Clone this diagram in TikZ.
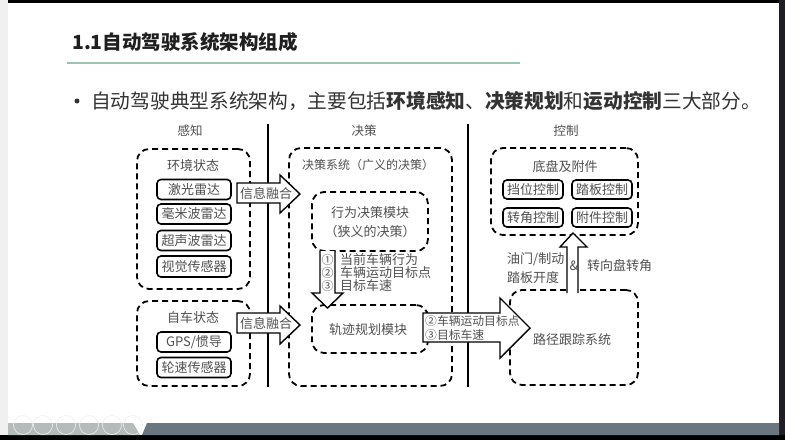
\documentclass[tikz,border=0pt]{standalone}
\usepackage{fontspec}
\setmainfont{Noto Sans CJK SC}
\definecolor{txt}{HTML}{333333}
\definecolor{dg}{HTML}{505050}
\definecolor{rulec}{HTML}{9CC3B0}
\definecolor{sidebar}{HTML}{F0F0F0}
\definecolor{darkR}{HTML}{1E1E24}
\definecolor{barL}{HTML}{B5BBBA}
\definecolor{barD}{HTML}{6A7780}
\begin{document}
\begin{tikzpicture}[x=1pt,y=-1pt,
  dbox/.style={draw=black, line width=1.8pt, dash pattern=on 6pt off 4pt, rounded corners=12pt, inner sep=0pt},
  sbox/.style={draw=black, line width=1.6pt, rounded corners=4pt, fill=white, text=dg, font=\fontsize{13}{13}\selectfont, inner sep=0pt},
  lbl/.style={text=dg, font=\fontsize{13}{13}\selectfont, inner sep=0pt},
  hdr/.style={text=dg, font=\fontsize{12.5}{12.5}\selectfont, inner sep=0pt},
  barrow/.style={draw=black, line width=1.4pt, fill=white, line join=miter},
  vline/.style={draw=black, line width=1.5pt},
]
\useasboundingbox (0,0) rectangle (785,440);
% slide frame
\fill[white] (0,0) rectangle (785,440);
\fill[sidebar] (0,0) rectangle (8,440);
\fill[black] (8,0) rectangle (779,3);
\fill[darkR] (779,0) rectangle (785,440);
\fill[black] (0,435) rectangle (785,440);
\fill[barL] (8,423) -- (133,423) -- (140,435) -- (8,435) -- cycle;
\fill[barD] (142,435) -- (147,423) -- (779,423) -- (779,435) -- cycle;
\foreach \x in {23,43,66,89,112,133} \draw[gray!12, line width=0.6pt] (\x,425) circle (9.5);

% title
\node[anchor=west, inner sep=0pt, font=\fontsize{19.5}{19.5}\selectfont\bfseries, text=black!88] (title) at (72,42) {1.1自动驾驶系统架构组成};
\draw[rulec, line width=1.5pt] (67,63) -- (520,63);
\node[circle, fill=txt, inner sep=0pt, minimum size=5pt] (bul) at (77,101) {};
\node[anchor=west, inner sep=0pt, font=\fontsize{19.7}{19.7}\selectfont, text=txt] (bullet) at (91,101)
  {自动驾驶典型系统架构，主要包括\textbf{环境感知}、\textbf{决策规划}和\textbf{运动控制}三大部分。};

% headers and separators
\node[hdr] (h1) at (190,131) {感知};
\node[hdr] (h2) at (364,131) {决策};
\node[hdr] (h3) at (566,131) {控制};
\coordinate (l1t) at (268,124); \coordinate (l1b) at (268,387);
\coordinate (l2t) at (468,124); \coordinate (l2b) at (468,387);
\draw[vline] (l1t) -- (l1b);
\draw[vline] (l2t) -- (l2b);

% perception
\node[dbox, minimum width=113pt, minimum height=140pt] (env) at (193.5,219) {};
\node[lbl] (envl) at (193,166) {环境状态};
\node[sbox, minimum width=74pt, minimum height=20pt] (s1) at (194,189.5) {激光雷达};
\node[sbox, minimum width=74pt, minimum height=20pt] (s2) at (194,214) {毫米波雷达};
\node[sbox, minimum width=74pt, minimum height=20pt] (s3) at (194,240.5) {超声波雷达};
\node[sbox, minimum width=74pt, minimum height=21pt] (s4) at (194,266.5) {视觉传感器};

\node[dbox, minimum width=113pt, minimum height=85pt] (ego) at (193.5,343.5) {};
\node[lbl] (egol) at (193,318) {自车状态};
\node[sbox, minimum width=74pt, minimum height=20pt] (g1) at (194,342) {GPS/惯导};
\node[sbox, minimum width=74pt, minimum height=20pt] (g2) at (194,367.5) {轮速传感器};

% decision
\node[dbox, minimum width=163pt, minimum height=238pt] (dec) at (370.5,267) {};
\node[hdr, font=\fontsize{12}{12}\selectfont] (decl) at (368,165) {决策系统（广义的决策）};
\node[dbox, minimum width=116pt, minimum height=59pt] (beh) at (370,221.5) {};
\node[lbl] (behl1) at (370,213) {行为决策模块};
\node[lbl] (behl2) at (370,232) {（狭义的决策）};
\node[dbox, minimum width=116pt, minimum height=48pt] (traj) at (370,329) {};
\node[lbl] (trajl) at (368,330) {轨迹规划模块};

% control
\node[dbox, minimum width=147pt, minimum height=87pt] (chas) at (564.5,191.5) {};
\node[lbl] (chasl) at (565,167) {底盘及附件};
\node[sbox, minimum width=60pt, minimum height=19pt] (c1) at (533,189.5) {挡位控制};
\node[sbox, minimum width=60pt, minimum height=19pt] (c2) at (602,189.5) {踏板控制};
\node[sbox, minimum width=60pt, minimum height=19pt] (c3) at (533,217.5) {转角控制};
\node[sbox, minimum width=60pt, minimum height=19pt] (c4) at (602,217.5) {附件控制};
\node[dbox, minimum width=128pt, minimum height=95pt] (track) at (574,337.5) {};
\node[lbl] (trackl) at (572,340) {路径跟踪系统};

% block arrows
\draw[barrow] (237,183) -- (280,183) -- (280,175) -- (300,194) -- (280,213) -- (280,203) -- (237,203) -- cycle;
\node[lbl, anchor=west] (f1) at (240,193.5) {信息融合};
\draw[barrow] (237,313) -- (280,313) -- (280,306) -- (300,325) -- (280,344) -- (280,333) -- (237,333) -- cycle;
\node[lbl, anchor=west] (f2) at (240,323.5) {信息融合};

\draw[barrow] (320,251) -- (320,293) -- (312,293) -- (327.5,308) -- (343,293) -- (335,293) -- (335,251);
\node[lbl, font=\fontsize{12}{12}\selectfont] (n1) at (327.5,260) {①};
\node[lbl, font=\fontsize{12}{12}\selectfont] (n2) at (327.5,273) {②};
\node[lbl, font=\fontsize{12}{12}\selectfont] (n3) at (327.5,286) {③};
\node[lbl, anchor=west] (t1) at (340,260) {当前车辆行为};
\node[lbl, anchor=west] (t2) at (340,273) {车辆运动目标点};
\node[lbl, anchor=west] (t3) at (340,286) {目标车速};

\draw[barrow] (423,313) -- (500,313) -- (500,298) -- (530,328) -- (500,358) -- (500,342) -- (423,342) -- cycle;
\node[lbl, anchor=west, font=\fontsize{11.8}{11.8}\selectfont] (b1) at (425,321.5) {②车辆运动目标点};
\node[lbl, anchor=west, font=\fontsize{11.8}{11.8}\selectfont] (b2) at (425,335) {③目标车速};

\draw[barrow] (567,293) -- (567,247) -- (560,247) -- (573,233) -- (587,247) -- (578,247) -- (578,293);
\node[lbl, anchor=west] (u1) at (507,259) {油门/制动};
\node[lbl, anchor=west] (u2) at (507,278) {踏板开度};
\node[lbl] (amp) at (574,266) {\&};
\node[lbl, anchor=west] (u3) at (587,266) {转向盘转角};
\end{tikzpicture}
\end{document}
